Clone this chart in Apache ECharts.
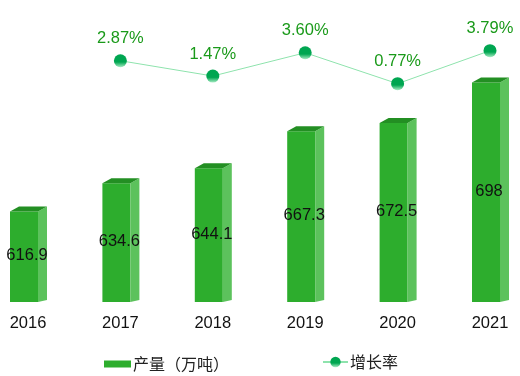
<!DOCTYPE html>
<html>
<head>
<meta charset="utf-8">
<script src="https://cdn.jsdelivr.net/npm/echarts@6/dist/echarts.min.js"></script>
<style>
  html, body { margin: 0; padding: 0; background: #fff; }
  #chart { width: 520px; height: 376px; }
</style>
</head>
<body>
<div id="chart"></div>
<script>
const years = ["2016", "2017", "2018", "2019", "2020", "2021"];
const output = [616.9, 634.6, 644.1, 667.3, 672.5, 698];
const growth = [null, 2.87, 1.47, 3.60, 0.77, 3.79];

const chart = echarts.init(document.getElementById("chart"));

// 3d-ish bar: front face, lighter side, darker top
function renderBar(params, api) {
  const idx = api.value(0);
  const val = api.value(1);
  const top = api.coord([idx, val]);
  const base = api.coord([idx, 560]);
  const cx = top[0];
  const fl = cx - 18, fr = cx + 10, sr = cx + 19, d = 5;
  const ty = top[1], by = base[1];
  return {
    type: "group",
    children: [
      {
        type: "polygon",
        shape: { points: [[fl, ty], [fr, ty], [fr, by], [fl, by]] },
        style: { fill: "#2dad2d" }
      },
      {
        type: "polygon",
        shape: { points: [[fr, ty], [sr, ty - d], [sr, by - 2], [fr, by]] },
        style: { fill: "#5cc25c" }
      },
      {
        type: "polygon",
        shape: { points: [[fl, ty], [fl + 9, ty - d], [sr, ty - d], [fr, ty]] },
        style: { fill: "#238f23" }
      },
      {
        type: "text",
        style: {
          text: String(val),
          x: cx - 1,
          y: (ty + by) / 2 - 1,
          align: "center",
          verticalAlign: "middle",
          fill: "#111",
          font: "16.5px Arial, 'Liberation Sans', sans-serif"
        }
      }
    ]
  };
}

chart.setOption({
  animation: false,
  legend: [
    {
      left: 99, top: 351,
      itemWidth: 27, itemHeight: 7,
      data: [{ name: "产量（万吨）", icon: "rect" }],
      textStyle: { fontSize: 16, color: "#222", padding: [0, 0, 0, -3], fontFamily: "'Noto Sans CJK SC', sans-serif" }
    },
    {
      left: 317, top: 349,
      itemWidth: 25, itemHeight: 13,
      data: ["增长率"],
      textStyle: { fontSize: 16, color: "#222", padding: [0, 0, 0, -3], fontFamily: "'Noto Sans CJK SC', sans-serif" }
    }
  ],
  grid: { left: 28, right: 30, top: 47.5, bottom: 74 },
  xAxis: {
    type: "category",
    data: years,
    boundaryGap: false,
    axisLine: { show: false },
    axisTick: { show: false },
    axisLabel: { color: "#111", fontSize: 16.5, margin: 13, fontFamily: "Arial, 'Liberation Sans', sans-serif" }
  },
  yAxis: [
    { type: "value", min: 560, max: 720, show: false, splitLine: { show: false } },
    { type: "value", min: -19.2, max: 4.08, show: false, splitLine: { show: false } }
  ],
  series: [
    {
      name: "产量（万吨）",
      type: "custom",
      renderItem: renderBar,
      itemStyle: { color: "#2dad2d" },
      encode: { x: 0, y: 1 },
      data: output.map((v, i) => [i, v]),
      z: 2
    },
    {
      name: "增长率",
      type: "line",
      yAxisIndex: 1,
      data: growth,
      symbol: "circle",
      symbolSize: 13,
      lineStyle: { color: "#8ee3ad", width: 1 },
      itemStyle: {
        color: new echarts.graphic.LinearGradient(0, 0, 0, 1, [
          { offset: 0, color: "#00a651" },
          { offset: 0.6, color: "#00a651" },
          { offset: 1, color: "#a8ecc4" }
        ])
      },
      label: {
        show: true,
        position: "top",
        distance: 7,
        formatter: p => p.value.toFixed(2) + "%",
        color: "#1a9a1a",
        fontSize: 16.5,
        fontFamily: "Arial, 'Liberation Sans', sans-serif"
      },
      z: 3
    }
  ]
});
</script>
</body>
</html>
